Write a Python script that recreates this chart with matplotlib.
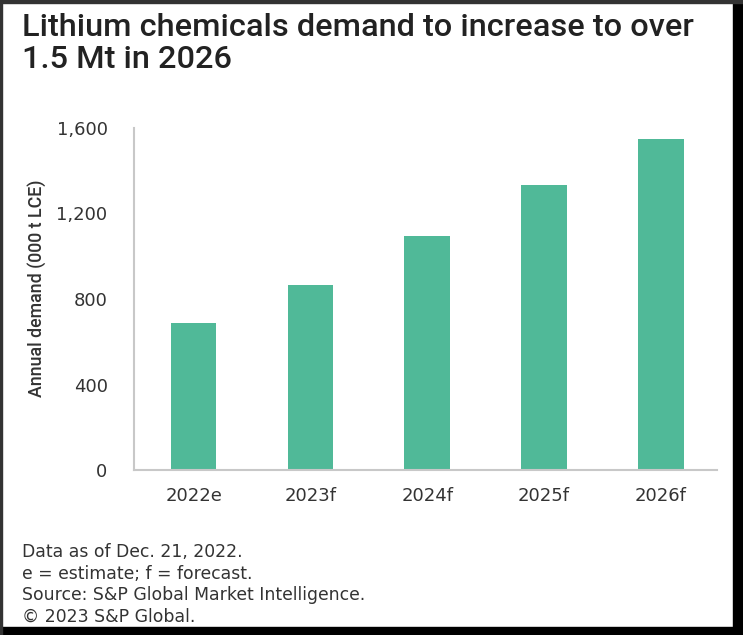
import matplotlib.pyplot as plt
from matplotlib.patches import Rectangle

# Data
years = ["2022e", "2023f", "2024f", "2025f", "2026f"]
demand = [688, 865, 1095, 1333, 1549]
yticks = [0, 400, 800, 1200, 1600]

title = "Lithium chemicals demand to increase to over\n1.5 Mt in 2026"
notes = ["Data as of Dec. 21, 2022.",
         "e = estimate; f = forecast.",
         "Source: S&P Global Market Intelligence.",
         "\u00a9 2023 S&P Global."]

plt.rcParams['font.family'] = ['DejaVu Sans']

fig = plt.figure(figsize=(7.43, 6.35), dpi=100)
ax = fig.add_axes([134 / 743, 1 - 470 / 635, (717 - 134) / 743, 342 / 635])

x = list(range(len(years)))
ax.bar(x, demand, width=0.39, color="#50b998")

ax.set_xlim(-0.51, 4.48)
ax.set_ylim(0, 1600)
ax.set_yticks(yticks)
ax.set_yticklabels([f"{v:,}" for v in yticks])
ax.set_xticks(x)
ax.set_xticklabels(years)
ax.tick_params(length=0, labelsize=13, colors="#333333", pad=12)
ax.tick_params(axis='y', pad=19)
for s in ["top", "right"]:
    ax.spines[s].set_visible(False)
for s in ["left", "bottom"]:
    ax.spines[s].set_color("#c8c8c8")
    ax.spines[s].set_linewidth(1.5)

ax.set_ylabel("Annual demand (000 t LCE)", fontsize=12.8, color="#333333",
              fontweight="medium", family="Roboto")
ax.yaxis.set_label_coords(-0.149, 0.53)

fig.text(0.030, 0.980, title, fontsize=23.4, color="#222222", va="top",
         ha="left", linespacing=1.15, fontweight="medium", family="Roboto")

for i, line in enumerate(notes):
    fig.text(0.030, 1 - (552 + 21.6 * i) / 635, line, fontsize=12.4,
             color="#333333", va="center", ha="left")

# dark frame around the screenshot
fig.patches.append(Rectangle((733 / 743, 0), 1, 1, transform=fig.transFigure,
                             color="black", zorder=5))
fig.patches.append(Rectangle((0, 0), 1, 8 / 635, transform=fig.transFigure,
                             color="black", zorder=5))
fig.patches.append(Rectangle((0, 1 - 3 / 635), 1, 3 / 635, transform=fig.transFigure,
                             color="#333333", zorder=5))
fig.patches.append(Rectangle((0, 0), 2 / 743, 1, transform=fig.transFigure,
                             color="#333333", zorder=5))

fig.savefig("out.png", dpi=100)
